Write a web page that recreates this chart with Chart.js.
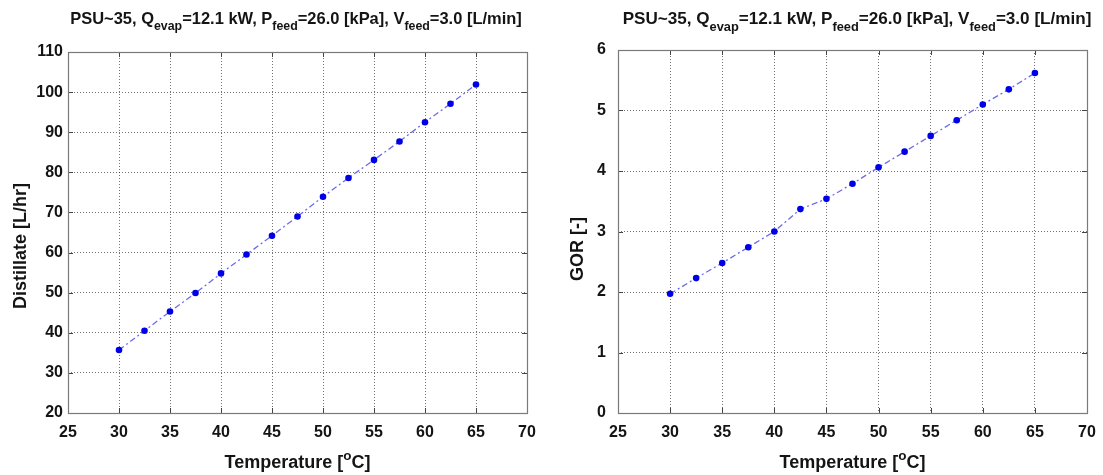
<!DOCTYPE html>
<html><head><meta charset="utf-8">
<script src="https://cdn.jsdelivr.net/npm/chart.js@4.4.1/dist/chart.umd.min.js"></script>
<style>
html,body{margin:0;padding:0;background:#fff;}
#wrap{position:relative;width:1103px;height:475px;overflow:hidden;}
.box{position:absolute;top:0;height:475px;}
</style></head><body>
<div id="wrap">
<div class="box" style="left:0;width:552px"><canvas id="c1"></canvas></div>
<div class="box" style="left:552px;width:551px"><canvas id="c2"></canvas></div>
</div>
<script>
// ---- data ----
const temperature = [30, 32.5, 35, 37.5, 40, 42.5, 45, 47.5, 50, 52.5, 55, 57.5, 60, 62.5, 65];
const distillate = [35.7, 40.5, 45.3, 49.9, 54.8, 59.5, 64.2, 69.0, 73.9, 78.6, 83.1, 87.7, 92.5, 97.1, 101.9];
const gor = [1.97, 2.23, 2.48, 2.74, 3.00, 3.37, 3.54, 3.79, 4.06, 4.32, 4.58, 4.84, 5.10, 5.35, 5.62];
const xTickLabels = [25, 30, 35, 40, 45, 50, 55, 60, 65, 70];
const distTickLabels = [20, 30, 40, 50, 60, 70, 80, 90, 100, 110];
const gorTickLabels = [0, 1, 2, 3, 4, 5, 6];
const titleParts = [
  ['PSU~35, Q', 0], ['evap', 1], ['=12.1 kW, P', 0], ['feed', 1],
  ['=26.0 [kPa], V', 0], ['feed', 1], ['=3.0 [L/min]', 0]
];
const xTitleParts = [['Temperature [', 0], ['o', 2], ['C]', 0]];

const FONT = '"Liberation Sans", Arial, Helvetica, sans-serif';
const TXT = '#141414';

function drawParts(ctx, parts, size, cx, by, targetW) {
  const sub = size * 0.75;
  const meas = (s) => {
    let w = 0;
    parts.forEach(([t, k]) => { ctx.font = 'bold ' + (k ? sub * s / size : s) + 'px ' + FONT; w += ctx.measureText(t).width; });
    return w;
  };
  let s = size;
  if (targetW) { s = size * targetW / meas(size); }
  const ss = s * 0.75;
  const w = meas(s);
  let x = cx - w / 2;
  ctx.fillStyle = TXT; ctx.textBaseline = 'alphabetic'; ctx.textAlign = 'left';
  parts.forEach(([t, k]) => {
    ctx.font = 'bold ' + (k ? ss : s) + 'px ' + FONT;
    const dy = k === 1 ? s * 0.38 : (k === 2 ? -s * 0.45 : 0);
    ctx.fillText(t, x, by + dy);
    x += ctx.measureText(t).width;
  });
}

const decor = {
  id: 'decor',
  afterDraw(chart, args, o) {
    const { ctx, chartArea: a } = chart;
    const xs = chart.scales.x, ys = chart.scales.y;
    ctx.save();
    ctx.strokeStyle = '#444'; ctx.lineWidth = 1;
    ctx.beginPath();
    xs.ticks.forEach(t => {
      const p = Math.round(xs.getPixelForValue(t.value)) + 0.5;
      ctx.moveTo(p, a.bottom); ctx.lineTo(p, a.bottom - 5);
      ctx.moveTo(p, a.top); ctx.lineTo(p, a.top + 5);
    });
    ys.ticks.forEach(t => {
      const p = Math.round(ys.getPixelForValue(t.value)) + 0.5;
      ctx.moveTo(a.left, p); ctx.lineTo(a.left + 5, p);
      ctx.moveTo(a.right, p); ctx.lineTo(a.right - 5, p);
    });
    ctx.stroke();
    ctx.strokeStyle = '#7a7a7a'; ctx.lineWidth = 1.2;
    ctx.strokeRect(Math.round(a.left) + 0.5, Math.round(a.top) + 0.5, Math.round(a.right - a.left), Math.round(a.bottom - a.top));
    // chart title
    drawParts(ctx, titleParts, 15, o.titleX, o.titleY, o.titleW);
    // x title
    drawParts(ctx, xTitleParts, 18, (a.left + a.right) / 2, o.xTitleY, 0);
    // y title
    ctx.translate(o.yTitleX, o.yTitleY);
    ctx.rotate(-Math.PI / 2);
    ctx.font = 'bold 18px ' + FONT;
    ctx.fillStyle = TXT; ctx.textAlign = 'center'; ctx.textBaseline = 'middle';
    ctx.fillText(o.yTitle, 0, 0);
    ctx.restore();
  }
};

function makeChart(id, yVals, yTicks, geo) {
  const pts = temperature.map((t, i) => ({ x: t, y: yVals[i] }));
  return new Chart(document.getElementById(id), {
    type: 'scatter',
    data: { datasets: [{
      data: pts, showLine: true,
      borderColor: '#6b6bef', borderWidth: 1.3, borderDash: [6, 3, 2, 3],
      pointRadius: 3.3, pointHoverRadius: 3.3,
      pointBackgroundColor: '#0000e8', pointBorderColor: '#0000e8', pointBorderWidth: 0
    }] },
    options: {
      responsive: true, maintainAspectRatio: false, animation: false,
      layout: { padding: { top: geo.top, right: geo.right, left: 0, bottom: 0 } },
      plugins: { legend: { display: false }, tooltip: { enabled: false },
        decor: geo.decor },
      scales: {
        x: {
          type: 'linear', min: xTickLabels[0], max: xTickLabels[xTickLabels.length - 1],
          afterBuildTicks: s => { s.ticks = xTickLabels.map(v => ({ value: v })); },
          afterFit: s => { s.height = 475 - geo.bottom; s.paddingLeft = 0; s.paddingRight = 0; },
          ticks: { padding: 10, color: TXT, font: { family: FONT, size: 16, weight: 'bold' } },
          grid: { color: 'rgba(0,0,0,0.55)', lineWidth: 1, drawTicks: false, borderDash: [1, 2] },
          border: { display: false, dash: [1, 2] }
        },
        y: {
          type: 'linear', min: yTicks[0], max: yTicks[yTicks.length - 1],
          afterBuildTicks: s => { s.ticks = yTicks.map(v => ({ value: v })); },
          afterFit: s => { s.width = geo.left; s.paddingTop = 0; s.paddingBottom = 0; },
          ticks: { padding: geo.yPad, color: TXT, font: { family: FONT, size: 16, weight: 'bold' } },
          grid: { color: 'rgba(0,0,0,0.55)', lineWidth: 1, drawTicks: false, borderDash: [1, 2] },
          border: { display: false, dash: [1, 2] }
        }
      }
    },
    plugins: [decor]
  });
}

makeChart('c1', distillate, distTickLabels, {
  top: 52, bottom: 413, left: 68, right: 552 - 527, yPad: 5,
  decor: { titleX: 296, titleY: 24, titleW: 452, xTitleY: 468, yTitleX: 21, yTitleY: 246, yTitle: 'Distillate [L/hr]' }
});
makeChart('c2', gor, gorTickLabels, {
  top: 50, bottom: 413, left: 66, right: 551 - 535, yPad: 12,
  decor: { titleX: 857 - 552, titleY: 24, titleW: 469, xTitleY: 468, yTitleX: 26, yTitleY: 249, yTitle: 'GOR [-]' }
});
</script>
</body></html>
